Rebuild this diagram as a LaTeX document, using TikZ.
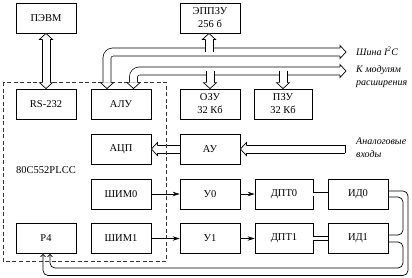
\documentclass[tikz,border=0pt]{standalone}
\usepackage{fontspec}
\setmainfont{Liberation Serif}
\usetikzlibrary{arrows.meta,calc}
\tikzset{
  blk/.style={draw, line width=0.8pt, minimum width=60pt, minimum height=30pt, inner sep=1pt, align=center, font=\fontsize{10.5}{13}\selectfont},
  busout/.style={draw=black, line width=8.7pt},
  busin/.style={draw=white, line width=7.3pt},
  wire/.style={line width=0.7pt},
  sarrow/.style={wire, -{Stealth[length=7pt,width=4.5pt]}},
  fb/.style={wire, rounded corners=5pt},
  fbarrow/.style={fb, -{Straight Barb[length=2.5pt,width=5pt]}},
  lbl/.style={anchor=west, inner sep=0pt, align=left, font=\fontsize{10}{13}\selectfont\itshape},
  hh/.pic={
    \fill[white] (0.3,0) -- (-6,-6.5) -- (-6,6.5) -- cycle;
    \draw[line width=0.7pt, line join=miter] (-6,4) -- (-6,6.5) -- (0,0) -- (-6,-6.5) -- (-6,-4);
  }
}
% straight bus pieces: walls drawn explicitly
\newcommand\mkvbus[3]{% x, y1, y2
  \fill[white] ({#1-4},#2) rectangle ({#1+4},#3);
  \draw[wire] ({#1-4},#2) -- ({#1-4},#3) ({#1+4},#2) -- ({#1+4},#3);}
\newcommand\mkhbus[3]{% y, x1, x2
  \fill[white] (#2,{#1-4}) rectangle (#3,{#1+4});
  \draw[wire] (#2,{#1-4}) -- (#3,{#1-4}) (#2,{#1+4}) -- (#3,{#1+4});}
\begin{document}
\begin{tikzpicture}[x=1pt,y=-1pt]
\useasboundingbox (0,0) rectangle (412,277);
% blocks
\node[blk] (pc) at (46,18) {ПЭВМ};
\node[blk] (ee) at (210,18) {ЭППЗУ\\256 б};
\node[blk] (rs) at (46,104) {RS-232};
\node[blk] (alu) at (121,104) {АЛУ};
\node[blk] (ozu) at (210,104) {ОЗУ\\32 Кб};
\node[blk, minimum width=58pt] (pzu) at (283,104) {ПЗУ\\32 Кб};
\node[blk] (adc) at (121,149) {АЦП};
\node[blk] (au) at (210,149) {АУ};
\node[blk] (pwm0) at (121,194) {ШИМ0};
\node[blk] (u0) at (210,194) {У0};
\node[blk, minimum width=58pt] (dpt0) at (284,194) {ДПТ0};
\node[blk] (id0) at (358,194) {ИД0};
\node[blk] (p4) at (46,238.5) {P4};
\node[blk] (pwm1) at (121,238.5) {ШИМ1};
\node[blk] (u1) at (210,238.5) {У1};
\node[blk, minimum width=58pt] (dpt1) at (284,238.5) {ДПТ1};
\node[blk] (id1) at (358,238.5) {ИД1};
\node[font=\fontsize{10.5}{13}\selectfont] (mcu) at (46,170) {80C552PLCC};
% labels
\node[lbl] (l1) at (356,51) {Шина I\textsuperscript{2}C};
\node[lbl] (l2) at (356,77) {К модулям\\расширения};
\node[lbl] (l3) at (356,147.5) {Аналоговые\\входы};
% ADC bus (under dashed frame)
\mkhbus{149}{157}{180}
\pic[rotate=180] at (adc.east) {hh};
% dashed frame
\draw[line width=0.7pt, black!80, dash pattern=on 4pt off 2.5pt] (3,82) rectangle (166,261);
% trunk buses with bends
\coordinate (endA) at (340,52);
\coordinate (endB) at (340,71);
\foreach \s in {busout,busin}{
  \path[\s, rounded corners=6pt] ([xshift=-14pt,yshift=6pt]alu.north) |- (endA);
  \path[\s, rounded corners=6pt] ([xshift=12.5pt,yshift=6pt]alu.north) |- (endB);
}
% straight bus branches
\mkvbus{209}{52}{39}
\mkvbus{210}{71}{83}
\mkvbus{283}{71}{83}
\mkvbus{46}{39}{83}
\mkhbus{149}{246}{345}
\draw[wire] (345,{149-4.35}) -- (345,{149+4.35});
% hollow heads
\pic at (346,52) {hh};
\pic at (346,71) {hh};
\pic[rotate=-90] at ([xshift=-14pt]alu.north) {hh};
\pic[rotate=-90] at ([xshift=12.5pt]alu.north) {hh};
\pic[rotate=90] at ([xshift=-1pt]ee.south) {hh};
\pic[rotate=-90] at (ozu.north) {hh};
\pic[rotate=-90] at (pzu.north) {hh};
\pic[rotate=90] at (pc.south) {hh};
\pic[rotate=-90] at (rs.north) {hh};
\pic[rotate=180] at (au.east) {hh};
% signal arrows
\draw[sarrow] (pwm0) -- (u0);
\draw[sarrow] (u0) -- (dpt0);
\draw[sarrow] (pwm1) -- (u1);
\draw[sarrow] (u1) -- (dpt1);
\draw[wire, double, double distance=3pt] (dpt0) -- (id0);
\draw[wire, double, double distance=3pt] (dpt1) -- (id1);
% feedback
\coordinate (fbo) at (408,275.5);
\coordinate (fbi) at (403,268);
\draw[fbarrow] ([yshift=3pt]id0.east) -| (fbo) -| ([xshift=-3pt]p4.south);
\draw[fb] ([yshift=-3pt]id0.east) -| ($(fbi |- id1.east)+(0,-3.5)$) -- ([yshift=3.5pt]id1.east);
\draw[fbarrow] ([yshift=-3.5pt]id1.east) -| (fbi) -| ([xshift=4pt]p4.south);
\end{tikzpicture}
\end{document}
